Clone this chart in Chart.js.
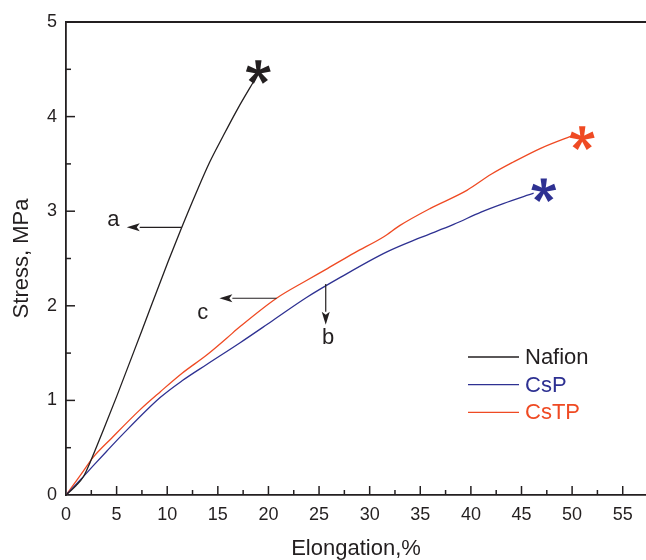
<!DOCTYPE html>
<html>
<head>
<meta charset="utf-8">
<script src="https://cdn.jsdelivr.net/npm/chart.js@4.4.1/dist/chart.umd.min.js"></script>
<style>
  html, body { margin: 0; padding: 0; background: #fff; }
  #wrap { width: 646px; height: 560px; }
</style>
</head>
<body>
<div id="wrap"><canvas id="stressChart" width="646" height="560"></canvas></div>
<script>
// stress-strain curves (elongation %, stress MPa)
const nafionX = [0, 1, 1.7, 2.4, 3.7, 5, 7.5, 10.1, 11.4, 12.8, 14.2, 15.5, 17, 18.7];
const nafionY = [0, 0.1, 0.19, 0.35, 0.69, 1.04, 1.74, 2.47, 2.82, 3.18, 3.52, 3.79, 4.09, 4.40];

const cspX = [0, 1.5, 2.7, 4, 5.5, 9.3, 11.5, 13.9, 17.2, 20.5, 23.8, 27.1, 31.7, 35, 38.3, 41, 43.2, 46.2];
const cspY = [0, 0.17, 0.31, 0.46, 0.63, 1.03, 1.21, 1.38, 1.61, 1.85, 2.09, 2.30, 2.57, 2.72, 2.86, 2.99, 3.08, 3.19];

const cstpX = [0, 1.5, 2.7, 4.5, 7.3, 9.3, 11.5, 13.9, 15.9, 17.2, 20.8, 23.8, 25.6, 28.5, 31.4, 33, 36, 39.6, 42, 44.2, 47, 50.3];
const cstpY = [0, 0.22, 0.40, 0.60, 0.90, 1.09, 1.29, 1.48, 1.66, 1.78, 2.08, 2.27, 2.38, 2.56, 2.73, 2.85, 3.03, 3.22, 3.39, 3.52, 3.67, 3.81];

const seriesNames = ['Nafion', 'CsP', 'CsTP'];
const seriesColors = ['#231f20', '#2e3192', '#ef4a23'];

// break points (asterisks)
const breakX = [19.0, 47.2, 51.0];
const breakY = [4.47, 3.22, 3.77];

const xTickLabels = ['0', '5', '10', '15', '20', '25', '30', '35', '40', '45', '50', '55'];
const yTickLabels = ['0', '1', '2', '3', '4', '5'];

// arrows a, c, b in data units
const arrowNames = ['a', 'c', 'b'];
const arrowFrom = [[11.43, 2.83], [20.8, 2.08], [25.66, 2.23]];
const arrowTo = [[6.0, 2.83], [15.15, 2.08], [25.66, 1.80]];
const arrowText = [[4.68, 2.91], [13.5, 1.92], [25.9, 1.66]];

const FONT = "'Liberation Sans', Arial, sans-serif";
const INK = '#231f20';

function toPoints(xs, ys) {
    return xs.map((x, i) => ({ x: x, y: ys[i] }));
}

function drawAsterisk(ctx, cx, cy, color) {
    ctx.save();
    ctx.fillStyle = color;
    for (let k = 0; k < 5; k++) {
        const a = -Math.PI / 2 + k * 2 * Math.PI / 5;
        const ux = Math.cos(a), uy = Math.sin(a);
        const nx = -uy, ny = ux;
        const r = 12;
        ctx.beginPath();
        ctx.moveTo(cx + nx * 1.6, cy + ny * 1.6);
        ctx.lineTo(cx + ux * r + nx * 3.2, cy + uy * r + ny * 3.2);
        ctx.lineTo(cx + ux * r - nx * 3.2, cy + uy * r - ny * 3.2);
        ctx.lineTo(cx - nx * 1.6, cy - ny * 1.6);
        ctx.closePath();
        ctx.fill();
    }
    ctx.beginPath();
    ctx.arc(cx, cy, 3, 0, Math.PI * 2);
    ctx.fill();
    ctx.restore();
}

const decorPlugin = {
    id: 'decor',
    afterDraw(chart) {
        const ctx = chart.ctx;
        const xs = chart.scales.x, ys = chart.scales.y;
        const area = chart.chartArea;

        ctx.save();
        ctx.strokeStyle = INK;

        // top frame line
        ctx.lineWidth = 1.8;
        ctx.beginPath();
        ctx.moveTo(area.left - 0.9, area.top);
        ctx.lineTo(area.right, area.top);
        ctx.stroke();

        // inward ticks
        ctx.lineWidth = 1.5;
        xs.ticks.forEach(t => {
            if (t.value <= 0) return;
            const px = xs.getPixelForValue(t.value);
            const len = t.value % 5 === 0 ? 9 : 5;
            ctx.beginPath();
            ctx.moveTo(px, area.bottom);
            ctx.lineTo(px, area.bottom - len);
            ctx.stroke();
        });
        ys.ticks.forEach(t => {
            if (t.value <= 0) return;
            const py = ys.getPixelForValue(t.value);
            const len = Number.isInteger(t.value) ? 9 : 5;
            ctx.beginPath();
            ctx.moveTo(area.left, py);
            ctx.lineTo(area.left + len, py);
            ctx.stroke();
        });

        // arrows with letters
        ctx.lineWidth = 1.2;
        ctx.fillStyle = INK;
        arrowNames.forEach((name, i) => {
            const x1 = xs.getPixelForValue(arrowFrom[i][0]);
            const y1 = ys.getPixelForValue(arrowFrom[i][1]);
            const x2 = xs.getPixelForValue(arrowTo[i][0]);
            const y2 = ys.getPixelForValue(arrowTo[i][1]);
            const ang = Math.atan2(y2 - y1, x2 - x1);
            const hl = 13, hw = 4;
            const bx = x2 - Math.cos(ang) * hl, by = y2 - Math.sin(ang) * hl;
            ctx.beginPath();
            ctx.moveTo(x1, y1);
            ctx.lineTo(bx, by);
            ctx.stroke();
            ctx.beginPath();
            ctx.moveTo(x2, y2);
            ctx.lineTo(bx - Math.sin(ang) * hw, by + Math.cos(ang) * hw);
            ctx.lineTo(bx + Math.cos(ang) * 3, by + Math.sin(ang) * 3);
            ctx.lineTo(bx + Math.sin(ang) * hw, by - Math.cos(ang) * hw);
            ctx.closePath();
            ctx.fill();

            ctx.font = '22px ' + FONT;
            ctx.textAlign = 'center';
            ctx.textBaseline = 'middle';
            ctx.fillText(name, xs.getPixelForValue(arrowText[i][0]), ys.getPixelForValue(arrowText[i][1]));
        });

        // break asterisks
        breakX.forEach((bx, i) => {
            drawAsterisk(ctx, xs.getPixelForValue(bx), ys.getPixelForValue(breakY[i]), seriesColors[i]);
        });

        // legend
        const lx = area.left + 402, ly = area.top + 335;
        ctx.font = '22px ' + FONT;
        ctx.textAlign = 'left';
        ctx.textBaseline = 'middle';
        ctx.lineWidth = 1.3;
        seriesNames.forEach((name, i) => {
            const y = ly + i * 27.7;
            ctx.strokeStyle = seriesColors[i];
            ctx.beginPath();
            ctx.moveTo(lx, y);
            ctx.lineTo(lx + 51, y);
            ctx.stroke();
            ctx.fillStyle = seriesColors[i];
            ctx.fillText(name, lx + 57, y + 1);
        });
        ctx.restore();
    }
};

const datasets = [
    toPoints(nafionX, nafionY),
    toPoints(cspX, cspY),
    toPoints(cstpX, cstpY)
].map((pts, i) => ({
    label: seriesNames[i],
    data: pts,
    borderColor: seriesColors[i],
    backgroundColor: seriesColors[i],
    borderWidth: 1.3,
    pointRadius: 0,
    cubicInterpolationMode: 'monotone',
    fill: false
}));

new Chart(document.getElementById('stressChart'), {
    type: 'line',
    data: { datasets: datasets },
    plugins: [decorPlugin],
    options: {
        responsive: false,
        animation: false,
        layout: { padding: { top: 22, right: 0, left: 0, bottom: 0 } },
        plugins: {
            legend: { display: false },
            tooltip: { enabled: false }
        },
        scales: {
            x: {
                type: 'linear',
                min: 0,
                max: 57.3,
                grid: { display: false, drawTicks: false },
                border: { display: true, color: INK, width: 1.8 },
                ticks: {
                    stepSize: 2.5,
                    includeBounds: false,
                    autoSkip: false,
                    maxRotation: 0,
                    padding: 9,
                    color: INK,
                    font: { family: FONT, size: 18 },
                    callback: v => (v % 5 === 0 ? xTickLabels[v / 5] : '')
                },
                title: {
                    display: true,
                    text: 'Elongation,%',
                    color: INK,
                    font: { family: FONT, size: 22 },
                    padding: { top: 0, bottom: -2 }
                },
                afterFit: s => { s.height = 65; }
            },
            y: {
                min: 0,
                max: 5,
                grid: { display: false, drawTicks: false },
                border: { display: true, color: INK, width: 1.8 },
                ticks: {
                    stepSize: 0.5,
                    autoSkip: false,
                    padding: 9,
                    color: INK,
                    font: { family: FONT, size: 18 },
                    callback: v => (Number.isInteger(v) ? yTickLabels[v] : '')
                },
                title: {
                    display: true,
                    text: 'Stress, MPa',
                    color: INK,
                    font: { family: FONT, size: 22 },
                    padding: { top: 9, bottom: 0 }
                },
                afterFit: s => { s.width = 66; }
            }
        }
    }
});
</script>
</body>
</html>
